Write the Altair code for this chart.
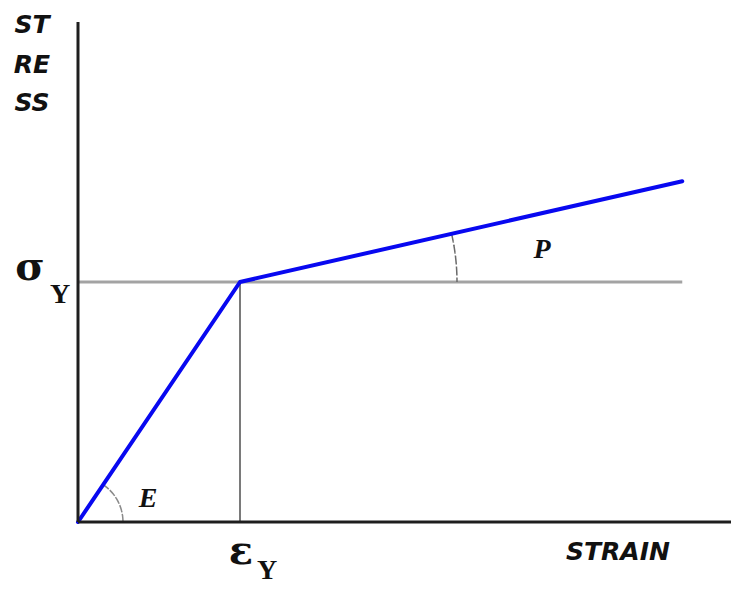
import altair as alt
import pandas as pd

# ---- data (strain in units of eps_Y, stress in units of sigma_Y) ----
curve_strain = [0.0, 1.0, 3.73]
curve_stress = [0.0, 1.0, 1.42]

yield_h_strain = [0.0, 3.73]      # horizontal sigma_Y line
yield_h_stress = [1.0, 1.0]
yield_v_strain = [1.0, 1.0]       # vertical eps_Y line
yield_v_stress = [0.0, 1.0]

axis_x_strain = [0.0, 4.04]
axis_x_stress = [0.0, 0.0]
axis_y_strain = [0.0, 0.0]
axis_y_stress = [0.0, 2.083]

# axis-title style labels (sans bold italic)
sans_labels = ["ST", "RE", "SS", "STRAIN"]
sans_x = [-0.284, -0.284, -0.284, 3.333]
sans_y = [2.069, 1.904, 1.746, -0.125]

# greek symbols
greek_labels = ["σ", "ε"]
greek_x = [-0.296, 1.006]
greek_y = [1.058, -0.125]

# subscripts
sub_labels = ["Y", "Y"]
sub_x = [-0.111, 1.167]
sub_y = [0.946, -0.205]

# slope names
slope_labels = ["E", "P"]
slope_x = [0.432, 2.864]
slope_y = [0.096, 1.133]

# slope arcs (center points)
arc_x = [0.0, 1.0]
arc_y = [0.0, 1.0]

XMAX = 650 / 162.0
YMAX = 500 / 240.0

xs = alt.Scale(domain=[0, XMAX], nice=False, zero=False)
ys = alt.Scale(domain=[0, YMAX], nice=False, zero=False)


def X(f="strain"):
    return alt.X(f + ":Q", scale=xs, axis=None)


def Y(f="stress"):
    return alt.Y(f + ":Q", scale=ys, axis=None)


def seg_df(sx, sy):
    return pd.DataFrame({"strain": [sx[0]], "strain2": [sx[1]],
                         "stress": [sy[0]], "stress2": [sy[1]]})


def rule(df, color, width):
    return alt.Chart(df).mark_rule(color=color, strokeWidth=width, strokeCap="butt").encode(
        x=X(), x2="strain2:Q", y=Y(), y2="stress2:Q")


ax_x = rule(seg_df(axis_x_strain, axis_x_stress), "#1e1e1e", 3)
ax_y = rule(seg_df(axis_y_strain, axis_y_stress), "#1e1e1e", 3)
yh = rule(seg_df(yield_h_strain, yield_h_stress), "#a3a3a3", 3)
yv = rule(seg_df(yield_v_strain, yield_v_stress), "#7a7a7a", 2)

curve = alt.Chart(pd.DataFrame({"strain": curve_strain, "stress": curve_stress})).mark_line(
    color="#0808f0", strokeWidth=4, strokeCap="round", strokeJoin="round").encode(
    x=X(), y=Y())

arc_df = pd.DataFrame({"strain": arc_x, "stress": arc_y})
arc_e = alt.Chart(arc_df.iloc[[0]]).mark_arc(
    radius=45, radius2=45, theta=0.584, theta2=1.5708,
    fillOpacity=0, stroke="#8a8a8a", strokeWidth=1.5, strokeDash=[6, 3]).encode(
    x=X(), y=Y())
arc_p = alt.Chart(arc_df.iloc[[1]]).mark_arc(
    radius=217, radius2=217, theta=1.347, theta2=1.5708,
    fillOpacity=0, stroke="#6a6a6a", strokeWidth=1.5, strokeDash=[8, 3]).encode(
    x=X(), y=Y())

sans = alt.Chart(pd.DataFrame({"strain": sans_x, "stress": sans_y, "t": sans_labels})).mark_text(
    font="DejaVu Sans", fontWeight="bold", fontStyle="italic", fontSize=25,
    color="#111111", align="center", baseline="middle").encode(x=X(), y=Y(), text="t:N")

greek = alt.Chart(pd.DataFrame({"strain": greek_x, "stress": greek_y, "t": greek_labels})).mark_text(
    font="DejaVu Serif", fontWeight="bold", fontSize=40,
    color="#111111", align="center", baseline="middle").encode(x=X(), y=Y(), text="t:N")

sub = alt.Chart(pd.DataFrame({"strain": sub_x, "stress": sub_y, "t": sub_labels})).mark_text(
    font="Liberation Serif", fontWeight="bold", fontSize=28,
    color="#111111", align="center", baseline="middle").encode(x=X(), y=Y(), text="t:N")

slope = alt.Chart(pd.DataFrame({"strain": slope_x, "stress": slope_y, "t": slope_labels})).mark_text(
    font="Liberation Serif", fontWeight="bold", fontStyle="italic", fontSize=28,
    color="#111111", align="center", baseline="middle").encode(x=X(), y=Y(), text="t:N")

chart = alt.layer(yh, yv, arc_e, arc_p, curve, ax_x, ax_y, sans, greek, sub, slope).properties(
    width=650, height=500,
    autosize=alt.AutoSizeParams(type="none"),
    padding={"left": 70, "top": 14, "right": 3, "bottom": 62},
    background="white",
).configure_view(stroke=None)

chart.save("out.html", embed_options={"renderer": "svg", "actions": False})
